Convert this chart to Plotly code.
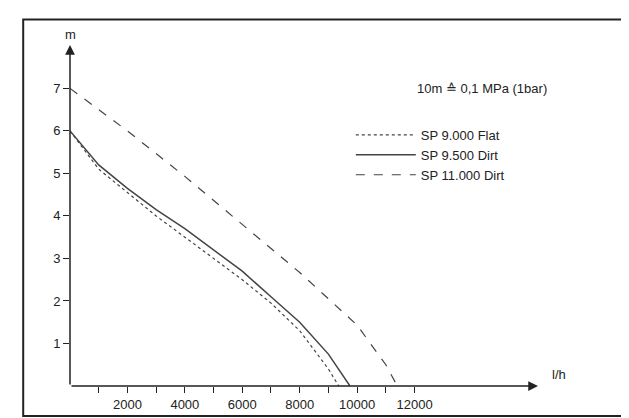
import plotly.graph_objects as go

# flow (l/h) vs head (m)
flat_x = [0, 1000, 2000, 3000, 4000, 5000, 6000, 7000, 8000, 9000, 9360]
flat_y = [6.0, 5.1, 4.55, 4.0, 3.5, 3.0, 2.5, 1.95, 1.3, 0.4, 0.0]
dirt_x = [0, 1000, 2000, 3000, 4000, 5000, 6000, 7000, 8000, 9000, 9750]
dirt_y = [6.0, 5.2, 4.65, 4.15, 3.7, 3.2, 2.7, 2.1, 1.5, 0.75, 0.0]
big_x = [0, 2000, 4000, 6000, 8000, 10000, 11000, 11400]
big_y = [7.0, 6.0, 4.93, 3.8, 2.67, 1.43, 0.5, 0.0]

x_ticks = list(range(1000, 13000, 1000))
x_labels = [str(v) if v % 2000 == 0 else "" for v in x_ticks]
y_ticks = [1, 2, 3, 4, 5, 6, 7]

fig = go.Figure()
fig.add_trace(go.Scatter(x=flat_x, y=flat_y, mode="lines", name="SP 9.000 Flat",
                         line=dict(color="#444", width=1.2, dash="dot")))
fig.add_trace(go.Scatter(x=dirt_x, y=dirt_y, mode="lines", name="SP 9.500 Dirt",
                         line=dict(color="#444", width=1.5)))
fig.add_trace(go.Scatter(x=big_x, y=big_y, mode="lines", name="SP 11.000 Dirt",
                         line=dict(color="#444", width=1.2, dash="dash")))

fig.update_layout(
    width=629, height=418, paper_bgcolor="white", plot_bgcolor="white",
    margin=dict(l=62, r=99, t=37, b=40),
    font=dict(family="Liberation Sans, Arial", size=13, color="#222"),
    legend=dict(x=0.6, y=0.78, xanchor="left", yanchor="top", bgcolor="rgba(0,0,0,0)",
                font=dict(size=13), itemwidth=60, tracegroupgap=0),
    xaxis=dict(range=[0, 16300], tickvals=x_ticks, ticktext=x_labels, ticks="outside",
               ticklen=6, tickcolor="#222", showgrid=False, zeroline=False, showline=False),
    yaxis=dict(range=[0, 8.02], tickvals=y_ticks, ticks="outside", ticklen=6,
               tickcolor="#222", showgrid=False, zeroline=False, showline=False),
    shapes=[dict(type="rect", xref="paper", yref="paper", x0=-0.1, x1=1.21, y0=-0.088, y1=1.075,
                 line=dict(color="#222", width=2))],
)
# axes with arrows
fig.add_annotation(x=16300, y=0, ax=0, ay=0, xref="x", yref="y", axref="x", ayref="y",
                   showarrow=True, arrowhead=2, arrowsize=1.3, arrowwidth=1.5, arrowcolor="#222", text="")
fig.add_annotation(x=0, y=8.02, ax=0, ay=0, xref="x", yref="y", axref="x", ayref="y",
                   showarrow=True, arrowhead=2, arrowsize=1.3, arrowwidth=1.5, arrowcolor="#222", text="")
fig.add_annotation(x=0, y=1.0, xref="x", yref="paper", yshift=20, text="m", showarrow=False)
fig.add_annotation(x=1.0, y=0, xref="paper", yref="y", xshift=30, yshift=12, text="l/h", showarrow=False)
fig.add_annotation(x=0.88, y=0.9, xref="paper", yref="paper", text="10m ≙ 0,1 MPa (1bar)",
                   showarrow=False, xanchor="center")

fig.write_html("out.html")
